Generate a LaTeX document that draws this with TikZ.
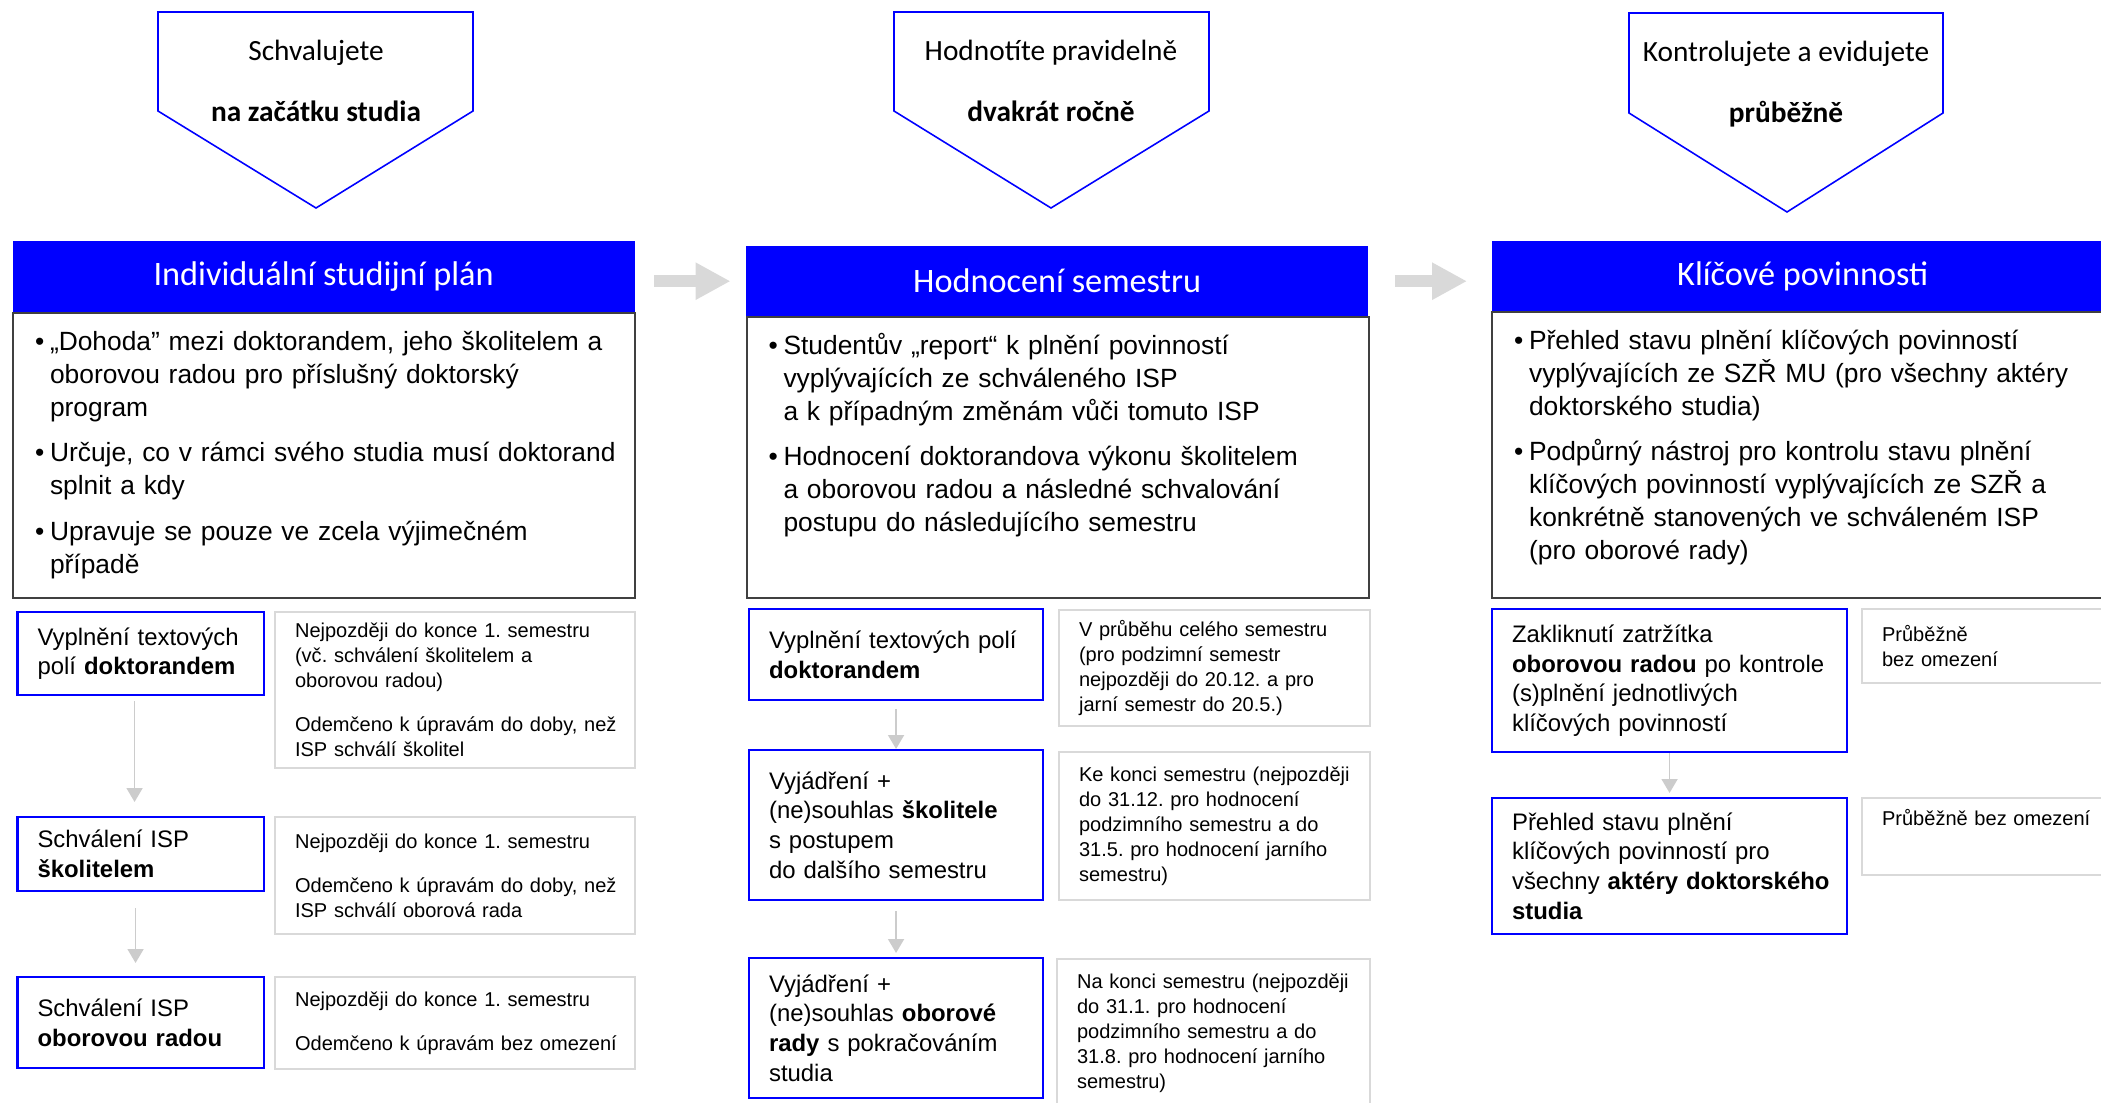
\documentclass[tikz,border=0pt]{standalone}
\usepackage{fontspec}
\setmainfont{Liberation Sans}
\newfontfamily\calfont{Carlito}
\usetikzlibrary{arrows.meta}
\definecolor{mublue}{RGB}{0, 0, 255}
\definecolor{framegray}{RGB}{64, 64, 64}
\definecolor{infogray}{RGB}{217, 217, 217}
\definecolor{arrowgray}{RGB}{204, 204, 204}

\newcommand\bul{\hangindent=0.15cm\hangafter=1\makebox[0.15cm][l]{\textbullet}}
\newcommand\nextbul{\par\vspace{3.6pt}\bul}

\begin{document}
\frenchspacing
\begin{tikzpicture}[
        headbox/.style={rectangle, fill=mublue, text=white, anchor=north west, inner sep=0pt, minimum width=6.22cm, font=\calfont\fontsize{9.75pt}{11pt}\selectfont},
        bodybox/.style={rectangle, draw=framegray, line width=0.6pt, anchor=north west, inner xsep=0pt, inner ysep=0.07cm, text width=6.22cm, text height=0.3cm, align=left, font=\fontsize{7.5pt}{9.4pt}\selectfont, execute at begin node={\leftskip=0.22cm}},
        stepbox/.style={rectangle, draw=mublue, line width=0.6pt, anchor=north west, inner sep=0pt, align=left, font=\fontsize{6.8pt}{8.4pt}\selectfont, execute at begin node={\leftskip=0.2cm}},
        infobox/.style={rectangle, draw=infogray, line width=0.6pt, anchor=north west, inner sep=0pt, align=left, font=\fontsize{5.7pt}{7.1pt}\selectfont, execute at begin node={\leftskip=0.2cm}},
        pentext/.style={align=center, inner sep=0pt, font=\calfont\fontsize{8.35pt}{10pt}\selectfont},
        penline/.style={draw=mublue, line width=0.45pt},
        steparrow/.style={draw=arrowgray, line width=0.5pt, -{Triangle[width=0.16cm, length=0.14cm]}},
        flowarrow/.style={draw=infogray, line width=0.12cm, -{Triangle[width=0.35cm, length=0.35cm]}}
      ]
        \useasboundingbox (0, 0) rectangle (21.01, -11.03);

        \draw[penline] (1.58, -0.12) -- (4.73, -0.12) -- (4.73, -1.11) -- (3.16, -2.08) -- (1.58, -1.11) -- cycle;
        \draw[penline] (8.94, -0.12) -- (12.09, -0.12) -- (12.09, -1.11) -- (10.51, -2.08) -- (8.94, -1.11) -- cycle;
        \draw[penline] (16.29, -0.13) -- (19.43, -0.13) -- (19.43, -1.13) -- (17.87, -2.12) -- (16.29, -1.13) -- cycle;
        \node[pentext] at (3.16, -0.81)  (approve)  {Schvalujete\\[7.4pt]\textbf{na začátku studia}};
        \node[pentext] at (10.51, -0.81) (evaluate) {Hodnotíte pravidelně\\[7.4pt]\textbf{dvakrát ročně}};
        \node[pentext] at (17.86, -0.84) (monitor)  {Kontrolujete a evidujete\\[7.4pt]\textbf{průběžně}};

        \node[headbox, minimum height=0.72cm] at (0.12, -2.40)  (isphead) {Individuální studijní plán};
        \node[headbox, minimum height=0.71cm] at (7.455, -2.45) (semhead) {Hodnocení semestru};
        \node[headbox, minimum height=0.71cm] at (14.91, -2.40) (keyhead) {Klíčové povinnosti};

        \node[bodybox, text depth=2.41cm] at (0.12, -3.12) (ispbody) {\bul „Dohoda” mezi doktorandem, jeho školitelem a\newline oborovou radou pro příslušný doktorský\newline program\nextbul Určuje, co v rámci svého studia musí doktorand\newline splnit a kdy\nextbul Upravuje se pouze ve zcela výjimečném\newline případě\par};
        \node[bodybox, text depth=2.37cm] at (7.455, -3.16) (sembody) {\bul Studentův „report“ k plnění povinností\newline vyplývajících ze schváleného ISP\newline a k případným změnám vůči tomuto ISP\nextbul Hodnocení doktorandova výkonu školitelem\newline a oborovou radou a následné schvalování\newline postupu do následujícího semestru\par};
        \node[bodybox, text depth=2.42cm] at (14.91, -3.11) (keybody) {\bul Přehled stavu plnění klíčových povinností\newline vyplývajících ze SZŘ MU (pro všechny aktéry\newline doktorského studia)\nextbul Podpůrný nástroj pro kontrolu stavu plnění\newline klíčových povinností vyplývajících ze SZŘ a\newline konkrétně stanovených ve schváleném ISP\newline (pro oborové rady)\par};

        \node[stepbox, text width=2.46cm, minimum height=0.83cm] at (0.165, -6.11) (ispfill)  {Vyplnění textových\\polí \textbf{doktorandem}};
        \node[stepbox, text width=2.46cm, minimum height=0.74cm] at (0.165, -8.16) (ispsup)   {Schválení ISP\\\textbf{školitelem}};
        \node[stepbox, text width=2.46cm, minimum height=0.91cm] at (0.165, -9.76) (ispboard) {Schválení ISP\\\textbf{oborovou radou}};

        \node[infobox, text width=3.60cm, minimum height=1.56cm] at (2.74, -6.11) (ispfillinfo)  {Nejpozději do konce 1. semestru\\(vč. schválení školitelem a\\oborovou radou)\\[5.5pt]Odemčeno k úpravám do doby, než\\ISP schválí školitel};
        \node[infobox, text width=3.60cm, minimum height=1.17cm] at (2.74, -8.16) (ispsupinfo)   {Nejpozději do konce 1. semestru\\[5.5pt]Odemčeno k úpravám do doby, než\\ISP schválí oborová rada};
        \node[infobox, text width=3.60cm, minimum height=0.92cm] at (2.74, -9.76) (ispboardinfo) {Nejpozději do konce 1. semestru\\[5.5pt]Odemčeno k úpravám bez omezení};

        \node[stepbox, text width=2.94cm, minimum height=0.91cm] at (7.48, -6.08) (semfill)  {Vyplnění textových polí\\\textbf{doktorandem}};
        \node[stepbox, text width=2.94cm, minimum height=1.50cm] at (7.48, -7.49) (semsup)   {Vyjádření +\\(ne)souhlas \textbf{školitele}\\s postupem\\do dalšího semestru};
        \node[stepbox, text width=2.94cm, minimum height=1.40cm] at (7.48, -9.57) (semboard) {Vyjádření +\\(ne)souhlas \textbf{oborové}\\\textbf{rady} s pokračováním\\studia};

        \node[infobox, text width=3.11cm, minimum height=1.16cm] at (10.58, -6.09) (semfillinfo)  {V průběhu celého semestru\\(pro podzimní semestr\\nejpozději do 20.12. a pro\\jarní semestr do 20.5.)};
        \node[infobox, text width=3.11cm, minimum height=1.48cm] at (10.58, -7.51) (semsupinfo)   {Ke konci semestru (nejpozději\\do 31.12. pro hodnocení\\podzimního semestru a do\\31.5. pro hodnocení jarního\\semestru)};
        \node[infobox, text width=3.13cm, minimum height=1.48cm] at (10.56, -9.58) (semboardinfo) {Na konci semestru (nejpozději\\do 31.1. pro hodnocení\\podzimního semestru a do\\31.8. pro hodnocení jarního\\semestru)};

        \node[stepbox, text width=3.55cm, minimum height=1.43cm] at (14.91, -6.08) (keycheck) {Zakliknutí zatržítka\\\textbf{oborovou radou} po kontrole\\(s)plnění jednotlivých\\klíčových povinností};
        \node[stepbox, text width=3.55cm, minimum height=1.36cm] at (14.91, -7.97) (keyview)  {Přehled stavu plnění\\klíčových povinností pro\\všechny \textbf{aktéry doktorského}\\\textbf{studia}};

        \node[infobox, text width=2.60cm, minimum height=0.74cm] at (18.61, -6.08) (keycheckinfo) {Průběžně\\bez omezení};
        \node[infobox, text width=2.60cm, minimum height=0.77cm, text height=0.27cm, text depth=0.5cm] at (18.61, -7.97) (keyviewinfo) {Průběžně bez omezení};

        \draw[flowarrow, shorten <=0.19cm, shorten >=0.15cm] (isphead.east |- semhead.west) -- (semhead.west);
        \draw[flowarrow, shorten <=0.26cm, shorten >=0.24cm] (semhead.east) -- (keyhead.west |- semhead.east);

        \draw[steparrow, shorten <=0.05cm, shorten >=0.14cm] ([xshift=-0.06cm]ispfill.south) -- ([xshift=-0.06cm]ispsup.north);
        \draw[steparrow, shorten <=0.16cm, shorten >=0.13cm] ([xshift=-0.05cm]ispsup.south) -- ([xshift=-0.05cm]ispboard.north);
        \draw[steparrow, shorten <=0.08cm] (semfill) -- (semsup);
        \draw[steparrow, shorten <=0.10cm, shorten >=0.04cm] (semsup) -- (semboard);
        \draw[steparrow, shorten >=0.04cm] (keycheck) -- (keyview);
      \end{tikzpicture}
\end{document}
